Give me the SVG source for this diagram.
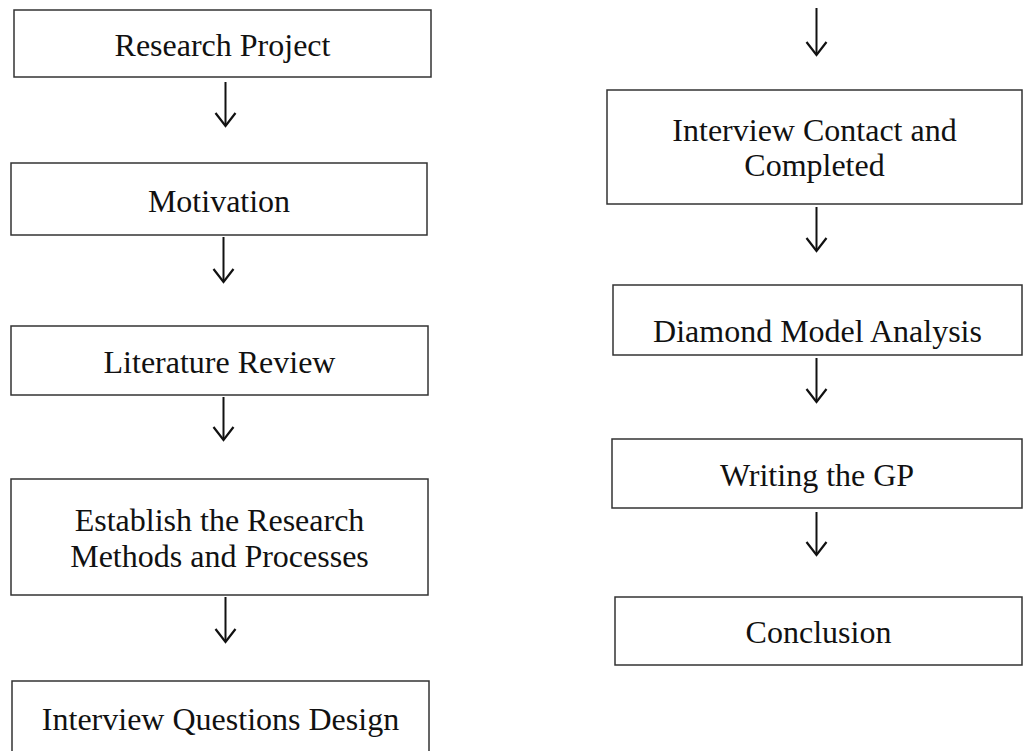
<svg xmlns="http://www.w3.org/2000/svg" width="1023" height="751" viewBox="0 0 1023 751">
<defs>
<style>
.box{fill:#fff;stroke:#333;stroke-width:1.5}
.t{font-family:"Liberation Serif","Times New Roman",serif;font-size:32px;fill:#111;text-anchor:middle}
.c{stroke:#111;stroke-width:2;fill:none}
</style>
<marker id="ah" markerWidth="16" markerHeight="24" refX="14" refY="12" markerUnits="userSpaceOnUse" orient="auto" viewBox="0 0 16 24">
<path d="M1,2 L14,12 L1,22" fill="none" stroke="#111" stroke-width="2.2"/>
</marker>
</defs>
<rect width="1023" height="751" fill="#fff"/>
<g id="connectors">
<line class="c" x1="225.5" y1="82" x2="225.5" y2="126" marker-end="url(#ah)"/>
<line class="c" x1="223.5" y1="237" x2="223.5" y2="282" marker-end="url(#ah)"/>
<line class="c" x1="223.5" y1="397" x2="223.5" y2="440" marker-end="url(#ah)"/>
<line class="c" x1="225.5" y1="597" x2="225.5" y2="642" marker-end="url(#ah)"/>
<line class="c" x1="816.5" y1="8" x2="816.5" y2="55" marker-end="url(#ah)"/>
<line class="c" x1="816.5" y1="207" x2="816.5" y2="251" marker-end="url(#ah)"/>
<line class="c" x1="816.5" y1="358" x2="816.5" y2="402" marker-end="url(#ah)"/>
<line class="c" x1="816.5" y1="512" x2="816.5" y2="555" marker-end="url(#ah)"/>
</g>
<g id="n1"><rect class="box" x="14" y="10" width="417" height="67"/><text class="t" x="222.5" y="56">Research Project</text></g>
<g id="n2"><rect class="box" x="11" y="163" width="416" height="72"/><text class="t" x="219" y="212">Motivation</text></g>
<g id="n3"><rect class="box" x="11" y="326" width="417" height="69"/><text class="t" x="219.5" y="373">Literature Review</text></g>
<g id="n4"><rect class="box" x="11" y="479" width="417" height="116"/><text class="t" x="219.5" y="531">Establish the Research</text><text class="t" x="219.5" y="567">Methods and Processes</text></g>
<g id="n5"><rect class="box" x="12" y="681" width="417" height="80"/><text class="t" x="220.5" y="730">Interview Questions Design</text></g>
<g id="n6"><rect class="box" x="607" y="90" width="415" height="114"/><text class="t" x="814.5" y="141">Interview Contact and</text><text class="t" x="814.5" y="176">Completed</text></g>
<g id="n7"><rect class="box" x="613" y="285" width="409" height="70"/><text class="t" x="817.5" y="342">Diamond Model Analysis</text></g>
<g id="n8"><rect class="box" x="612" y="439" width="410" height="69"/><text class="t" x="817" y="486">Writing the GP</text></g>
<g id="n9"><rect class="box" x="615" y="597" width="407" height="68"/><text class="t" x="818.5" y="643">Conclusion</text></g>
</svg>
